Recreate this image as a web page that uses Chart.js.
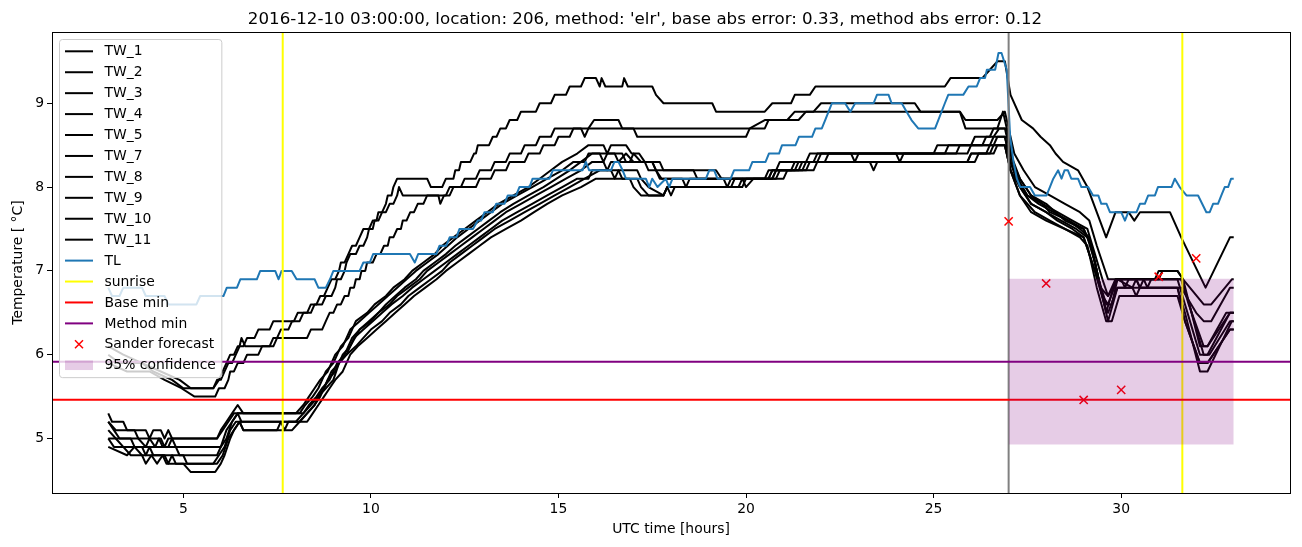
<!DOCTYPE html>
<html>
<head>
<meta charset="utf-8">
<script src="https://cdn.jsdelivr.net/npm/chart.js@4.4.1/dist/chart.umd.min.js"></script>
<style>
  html, body { margin: 0; padding: 0; background: #fff; }
  canvas { display: block; }
</style>
</head>
<body>
<canvas id="chart" width="1302" height="547"></canvas>
<script>
(() => {
  'use strict'

  const title = "2016-12-10 03:00:00, location: 206, method: 'elr', base abs error: 0.33, method abs error: 0.12"
  const xTicks = [5, 10, 15, 20, 25, 30]
  const yTicks = [5, 6, 7, 8, 9]
  const xLimits = [1.5, 34.5]
  const yLimits = [4.35, 9.85]

  // water temperature sensors, [hour, value]
  const tw1 = [[3,6.1],[3.4,6.0],[3.9,5.9],[4.4,5.8],[4.9,5.7],[5.2,5.6],[5.8,5.6],[5.95,5.7],[6.05,5.8],[6.15,5.9],[6.25,6.0],[6.35,6.0],[6.45,6.1],[6.6,6.1],[6.7,6.2],[6.9,6.2],[7.0,6.3],[7.3,6.3],[7.4,6.4],[7.95,6.4],[8.05,6.5],[8.4,6.5],[8.5,6.6],[8.7,6.6],[8.8,6.7],[8.95,6.7],[9.05,6.8],[9.1,6.9],[9.2,6.9],[9.3,7.0],[9.35,7.1],[9.45,7.2],[9.6,7.2],[9.7,7.3],[9.8,7.3],[9.9,7.4],[9.95,7.5],[10.05,7.5],[10.1,7.6],[10.15,7.6],[10.2,7.7],[10.3,7.7],[10.4,7.8],[10.45,7.9],[10.55,7.9],[10.6,8.0],[10.7,8.1],[11.5,8.1],[11.6,8.0],[11.9,8.0],[12.0,8.1],[12.2,8.1],[12.25,8.2],[12.35,8.2],[12.4,8.3],[12.65,8.3],[12.75,8.4],[12.8,8.4],[12.85,8.5],[13.15,8.5],[13.25,8.6],[13.35,8.6],[13.45,8.7],[13.6,8.7],[13.7,8.8],[13.9,8.8],[14.0,8.9],[14.4,8.9],[14.5,9.0],[14.8,9.0],[14.9,9.1],[15.2,9.1],[15.3,9.2],[15.6,9.2],[15.7,9.3],[16.0,9.3],[16.1,9.2],[16.15,9.3],[16.25,9.2],[16.7,9.2],[16.75,9.3],[16.85,9.2],[17.5,9.2],[17.6,9.1],[17.8,9.0],[19.1,9.0],[19.2,8.9],[20.5,8.9],[20.7,9.0],[21.2,9.0],[21.3,9.1],[21.7,9.1],[21.85,9.2],[25.3,9.2],[25.45,9.3],[26.3,9.3],[26.5,9.4],[26.7,9.5],[26.9,9.5],[27.05,9.1],[27.35,8.8],[27.65,8.7],[27.85,8.6],[28.1,8.5],[28.25,8.4],[28.45,8.3],[28.85,8.2],[29.1,8.0],[29.6,7.4],[29.85,7.7],[30.2,7.7],[30.35,7.6],[30.5,7.7],[31.3,7.7],[31.6,7.4],[32.25,6.8],[32.9,7.4],[33.0,7.4]]
  const tw2 = [[3,6.0],[3.3,5.9],[3.9,5.9],[4.2,5.8],[4.7,5.7],[5.0,5.6],[5.8,5.6],[5.9,5.7],[6.0,5.7],[6.1,5.8],[6.2,5.9],[6.3,5.9],[6.4,6.0],[6.5,6.1],[6.55,6.2],[6.65,6.1],[7.3,6.1],[7.4,6.2],[7.5,6.2],[7.6,6.3],[7.8,6.3],[7.9,6.4],[8.1,6.4],[8.2,6.5],[8.3,6.5],[8.4,6.6],[8.55,6.6],[8.65,6.7],[8.75,6.7],[8.85,6.8],[8.95,6.9],[9.05,6.9],[9.15,7.0],[9.2,7.1],[9.3,7.1],[9.4,7.2],[9.5,7.3],[9.6,7.3],[9.7,7.4],[9.8,7.5],[9.95,7.5],[10.05,7.6],[10.2,7.6],[10.3,7.7],[10.4,7.7],[10.5,7.8],[10.6,7.8],[10.7,7.9],[10.75,8.0],[10.85,7.9],[11.8,7.9],[11.85,7.8],[11.95,7.9],[12.1,7.9],[12.2,8.0],[12.4,8.0],[12.5,8.1],[12.8,8.1],[12.9,8.2],[13.2,8.2],[13.3,8.3],[13.6,8.3],[13.7,8.4],[14.0,8.4],[14.1,8.5],[14.4,8.5],[14.5,8.6],[14.8,8.6],[14.9,8.7],[15.6,8.7],[15.7,8.6],[15.8,8.7],[15.95,8.8],[16.6,8.8],[16.7,8.7],[20.1,8.7],[20.5,8.8],[21.1,8.8],[21.3,8.9],[21.8,8.9],[22.0,9.0],[24.5,9.0],[24.65,8.9],[25.7,8.9],[25.85,8.8],[26.7,8.8],[26.9,8.9],[27.0,8.7],[27.15,8.4],[27.4,8.2],[27.7,8.0],[28.1,7.9],[28.5,7.8],[28.9,7.7],[29.15,7.6],[29.35,7.3],[29.65,6.9],[30.0,6.9],[30.1,6.8],[30.2,6.9],[31.0,6.9],[31.1,7.0],[31.5,7.0],[31.65,6.9],[32.2,6.6],[32.4,6.6],[32.95,6.9],[33.0,6.9]]
  const tw3 = [[3,5.9],[3.5,5.8],[4.1,5.8],[4.5,5.7],[4.95,5.6],[5.3,5.5],[5.85,5.5],[5.95,5.6],[6.1,5.6],[6.2,5.7],[6.25,5.8],[6.35,5.8],[6.45,5.9],[6.6,5.9],[6.7,6.0],[7.0,6.0],[7.1,6.1],[7.4,6.1],[7.5,6.2],[8.3,6.2],[8.4,6.3],[8.7,6.3],[8.8,6.4],[8.9,6.5],[9.0,6.5],[9.1,6.6],[9.2,6.6],[9.3,6.7],[9.4,6.7],[9.45,6.8],[9.55,6.8],[9.6,6.9],[9.7,6.9],[9.75,7.0],[9.85,7.0],[9.9,7.1],[10.05,7.1],[10.15,7.2],[10.25,7.2],[10.35,7.3],[10.45,7.3],[10.5,7.4],[10.6,7.4],[10.7,7.5],[10.8,7.5],[10.85,7.6],[10.95,7.6],[11.05,7.7],[11.15,7.7],[11.25,7.8],[11.4,7.8],[11.5,7.9],[12.0,7.9],[12.1,8.0],[12.8,8.0],[12.9,8.1],[13.2,8.1],[13.3,8.2],[13.6,8.2],[13.7,8.3],[14.1,8.3],[14.2,8.4],[14.5,8.4],[14.6,8.5],[14.9,8.5],[15.0,8.6],[15.3,8.6],[15.4,8.7],[17.0,8.7],[17.1,8.6],[20.0,8.6],[20.1,8.7],[20.5,8.7],[20.6,8.8],[21.4,8.8],[21.6,8.9],[25.7,8.9],[25.85,8.7],[26.7,8.7],[26.85,8.9],[27.0,8.6],[27.1,8.3],[27.3,8.1],[27.6,7.9],[28.0,7.8],[28.5,7.6],[29.0,7.5],[29.2,7.3],[29.45,6.8],[29.65,6.7],[29.9,6.9],[30.3,6.8],[30.4,6.9],[30.5,6.8],[31.6,6.8],[32.0,6.5],[32.2,6.4],[32.4,6.4],[32.9,6.8],[33.0,6.8]]
  const tw4 = [[3,5.3],[3.1,5.2],[3.4,5.2],[3.5,5.1],[4.0,5.1],[4.1,5.0],[4.2,5.1],[4.4,5.1],[4.5,5.0],[4.6,5.1],[4.7,5.0],[5.9,5.0],[6.0,5.1],[6.15,5.2],[6.3,5.3],[6.45,5.4],[6.6,5.3],[8.1,5.3],[8.25,5.4],[8.45,5.5],[8.6,5.6],[8.8,5.8],[9.0,5.9],[9.2,6.1],[9.4,6.2],[9.6,6.4],[9.9,6.5],[10.1,6.6],[10.4,6.7],[10.6,6.8],[10.9,6.9],[11.1,7.0],[11.4,7.1],[11.7,7.2],[11.9,7.3],[12.2,7.4],[12.5,7.5],[12.8,7.6],[13.1,7.7],[13.4,7.8],[13.8,7.9],[14.2,8.0],[14.5,8.1],[14.8,8.2],[15.1,8.3],[15.5,8.4],[15.8,8.5],[16.2,8.5],[16.3,8.4],[16.4,8.5],[16.8,8.5],[16.95,8.4],[17.15,8.4],[17.3,8.3],[17.7,8.3],[17.8,8.2],[19.2,8.2],[19.35,8.1],[20.6,8.1],[20.7,8.2],[21.4,8.2],[21.5,8.3],[21.9,8.3],[22.0,8.4],[25.3,8.4],[25.4,8.5],[26.3,8.5],[26.4,8.6],[26.6,8.6],[26.75,8.7],[26.95,8.7],[27.05,8.4],[27.25,8.1],[27.5,7.9],[27.8,7.8],[28.2,7.7],[28.6,7.6],[28.9,7.5],[29.15,7.4],[29.4,6.9],[29.6,6.5],[29.85,6.9],[31.6,6.9],[31.8,6.6],[32.2,6.1],[32.3,6.1],[32.8,6.5],[33.0,6.5]]
  const tw5 = [[3,5.2],[3.2,5.1],[3.7,5.1],[3.8,5.0],[4.0,4.9],[4.1,5.0],[4.25,4.9],[4.35,5.0],[4.45,4.9],[6.0,4.9],[6.15,5.0],[6.3,5.2],[6.45,5.3],[8.2,5.3],[8.35,5.4],[8.55,5.5],[8.7,5.6],[8.9,5.7],[9.1,5.9],[9.3,6.0],[9.5,6.2],[9.7,6.3],[10.0,6.4],[10.2,6.5],[10.5,6.6],[10.7,6.7],[11.0,6.8],[11.3,6.9],[11.5,7.0],[11.8,7.1],[12.1,7.2],[12.4,7.3],[12.7,7.4],[13.0,7.5],[13.3,7.6],[13.6,7.7],[14.0,7.8],[14.4,7.9],[14.8,8.0],[15.2,8.1],[15.6,8.2],[15.9,8.3],[16.2,8.3],[16.3,8.2],[16.4,8.3],[16.9,8.3],[17.0,8.4],[17.2,8.3],[17.5,8.3],[17.6,8.2],[17.7,8.1],[19.9,8.1],[20.0,8.0],[20.2,8.1],[20.7,8.1],[20.8,8.2],[21.5,8.2],[21.6,8.3],[22.1,8.3],[22.2,8.4],[22.8,8.4],[22.9,8.3],[23.0,8.4],[25.9,8.4],[26.0,8.5],[26.5,8.5],[26.6,8.6],[26.9,8.6],[27.05,8.3],[27.2,8.1],[27.5,7.9],[27.9,7.8],[28.1,7.7],[28.6,7.6],[29.0,7.5],[29.2,7.3],[29.4,6.9],[29.6,6.6],[29.75,6.6],[29.9,6.9],[30.4,6.9],[30.5,6.8],[30.6,6.9],[31.6,6.9],[31.75,6.7],[32.2,6.0],[32.35,6.0],[32.9,6.4],[33.0,6.4]]
  const tw7 = [[3,5.1],[3.2,5.0],[3.4,4.9],[3.6,4.8],[3.9,4.8],[4.0,4.7],[4.15,4.8],[4.3,4.7],[4.45,4.8],[4.55,4.7],[5.0,4.7],[5.2,4.6],[5.85,4.6],[6.0,4.7],[6.1,4.8],[6.25,5.0],[6.35,5.1],[6.5,5.2],[6.6,5.1],[7.9,5.1],[8.1,5.2],[8.3,5.3],[8.5,5.4],[8.6,5.5],[8.8,5.6],[9.0,5.7],[9.15,5.9],[9.35,6.0],[9.6,6.1],[9.8,6.2],[10.0,6.3],[10.3,6.4],[10.5,6.5],[10.8,6.6],[11.0,6.7],[11.3,6.8],[11.6,6.9],[11.9,7.0],[12.1,7.1],[12.4,7.2],[12.7,7.3],[13.0,7.4],[13.3,7.5],[13.7,7.6],[14.1,7.7],[14.5,7.8],[14.9,7.9],[15.3,8.0],[15.7,8.1],[16.1,8.2],[16.4,8.2],[16.5,8.1],[16.6,8.2],[17.1,8.2],[17.2,8.1],[17.4,8.0],[17.8,7.9],[17.9,8.0],[19.6,8.0],[19.7,8.1],[20.6,8.1],[20.7,8.2],[21.3,8.2],[21.4,8.3],[25.9,8.3],[26.0,8.4],[26.4,8.4],[26.5,8.5],[26.9,8.5],[27.05,8.2],[27.3,8.0],[27.6,7.8],[28.0,7.7],[28.4,7.6],[28.8,7.5],[29.1,7.4],[29.3,7.1],[29.5,6.7],[29.65,6.4],[29.9,6.8],[30.3,6.8],[30.4,6.7],[30.5,6.8],[31.5,6.8],[31.7,6.4],[32.1,5.9],[32.3,5.9],[32.9,6.3],[33.0,6.3]]
  const tw8 = [[3,5.0],[4.4,5.0],[4.5,4.9],[4.6,5.0],[5.9,5.0],[6.05,5.1],[6.2,5.2],[6.35,5.3],[8.0,5.3],[8.2,5.4],[8.35,5.5],[8.5,5.6],[8.65,5.7],[8.85,5.8],[9.05,6.0],[9.25,6.1],[9.45,6.3],[9.7,6.4],[9.95,6.5],[10.2,6.6],[10.45,6.7],[10.7,6.8],[10.95,6.9],[11.2,7.0],[11.5,7.1],[11.8,7.2],[12.05,7.3],[12.3,7.4],[12.6,7.5],[12.9,7.6],[13.2,7.7],[13.5,7.8],[13.9,7.9],[14.3,8.0],[14.7,8.1],[15.1,8.2],[15.4,8.3],[15.7,8.3],[15.8,8.4],[16.5,8.4],[16.6,8.3],[16.8,8.4],[17.0,8.3],[17.5,8.3],[17.6,8.2],[17.75,8.1],[18.3,8.1],[18.4,8.0],[18.5,8.1],[20.5,8.1],[20.6,8.2],[20.8,8.2],[20.9,8.3],[21.6,8.3],[21.7,8.4],[24.0,8.4],[24.1,8.3],[24.2,8.4],[25.6,8.4],[25.7,8.5],[26.6,8.5],[26.7,8.6],[26.9,8.6],[27.05,8.3],[27.3,8.0],[27.6,7.8],[28.0,7.7],[28.3,7.6],[28.7,7.5],[29.0,7.4],[29.3,7.0],[29.55,6.6],[29.65,6.5],[29.9,6.8],[31.5,6.8],[31.7,6.5],[32.1,5.8],[32.3,5.8],[32.95,6.4],[33.0,6.4]]
  const tw9 = [[3,4.9],[3.5,4.8],[3.7,4.9],[3.9,4.8],[4.5,4.8],[4.6,4.7],[4.7,4.8],[4.8,4.7],[5.9,4.7],[6.05,4.8],[6.2,5.0],[6.35,5.1],[6.5,5.2],[6.6,5.1],[7.5,5.1],[7.6,5.2],[8.0,5.2],[8.2,5.3],[8.4,5.4],[8.6,5.5],[8.75,5.6],[8.95,5.8],[9.15,5.9],[9.35,6.0],[9.55,6.2],[9.8,6.3],[10.05,6.4],[10.3,6.5],[10.55,6.6],[10.85,6.7],[11.1,6.8],[11.4,6.9],[11.7,7.0],[12.0,7.1],[12.3,7.2],[12.6,7.3],[12.9,7.4],[13.2,7.5],[13.5,7.6],[13.9,7.7],[14.3,7.8],[14.7,7.9],[15.1,8.0],[15.5,8.1],[15.8,8.1],[15.9,8.2],[16.6,8.2],[16.7,8.1],[17.1,8.1],[17.2,8.0],[17.4,7.9],[17.8,7.9],[17.9,8.0],[18.0,7.9],[18.1,8.0],[19.9,8.0],[20.0,8.1],[20.8,8.1],[20.9,8.2],[21.6,8.2],[21.7,8.3],[25.9,8.3],[26.0,8.4],[26.5,8.4],[26.6,8.5],[26.9,8.5],[27.05,8.2],[27.3,7.9],[27.6,7.7],[28.0,7.6],[28.5,7.5],[29.0,7.4],[29.3,7.0],[29.5,6.7],[29.65,6.6],[29.9,6.9],[30.6,6.9],[30.7,6.8],[30.8,6.9],[31.5,6.9],[31.7,6.6],[32.1,6.0],[32.3,6.0],[32.9,6.5],[33.0,6.5]]
  const tw10 = [[3,5.0],[3.15,4.9],[3.9,4.9],[4.0,4.8],[4.1,4.9],[4.2,4.8],[5.0,4.8],[5.1,4.7],[5.8,4.7],[5.95,4.8],[6.1,4.9],[6.25,5.1],[6.4,5.2],[7.6,5.2],[7.7,5.1],[7.8,5.2],[8.3,5.2],[8.45,5.3],[8.6,5.4],[8.75,5.5],[8.9,5.6],[9.05,5.7],[9.25,5.8],[9.45,6.0],[9.65,6.1],[9.9,6.2],[10.15,6.3],[10.4,6.4],[10.65,6.5],[10.9,6.6],[11.15,6.7],[11.45,6.8],[11.75,6.9],[12.0,7.0],[12.3,7.1],[12.6,7.2],[12.9,7.3],[13.2,7.4],[13.6,7.5],[14.0,7.6],[14.35,7.7],[14.7,7.8],[15.1,7.9],[15.6,8.0],[16.0,8.1],[16.9,8.1],[17.0,8.0],[17.2,7.9],[17.8,7.9],[17.9,8.0],[19.8,8.0],[19.9,8.1],[21.0,8.1],[21.1,8.2],[21.8,8.2],[21.9,8.3],[23.3,8.3],[23.4,8.2],[23.5,8.3],[26.1,8.3],[26.2,8.4],[26.6,8.4],[26.7,8.5],[26.9,8.5],[27.05,8.2],[27.3,7.9],[27.7,7.7],[28.1,7.6],[28.5,7.5],[28.9,7.4],[29.1,7.3],[29.35,6.8],[29.6,6.4],[29.75,6.4],[29.95,6.7],[31.5,6.7],[31.7,6.4],[32.1,5.9],[32.3,5.9],[32.9,6.3],[33.0,6.3]]
  const tw11 = [[3,5.2],[3.15,5.1],[3.3,5.0],[3.6,5.0],[3.7,4.9],[4.6,4.9],[4.7,5.0],[4.8,4.9],[4.9,4.8],[5.9,4.8],[6.0,4.9],[6.15,5.1],[6.3,5.2],[6.45,5.3],[6.55,5.2],[8.1,5.2],[8.3,5.3],[8.5,5.4],[8.65,5.5],[8.85,5.7],[9.05,5.8],[9.25,6.0],[9.45,6.1],[9.7,6.3],[9.95,6.4],[10.2,6.5],[10.4,6.6],[10.65,6.7],[10.9,6.8],[11.2,6.9],[11.4,7.0],[11.7,7.1],[12.0,7.2],[12.25,7.3],[12.55,7.4],[12.85,7.5],[13.15,7.6],[13.45,7.7],[13.8,7.8],[14.2,7.9],[14.6,8.0],[14.95,8.1],[15.3,8.2],[15.6,8.3],[15.9,8.4],[16.1,8.4],[16.2,8.3],[16.3,8.4],[16.7,8.4],[16.8,8.3],[17.3,8.3],[17.4,8.2],[18.6,8.2],[18.7,8.1],[19.4,8.1],[19.5,8.0],[19.6,8.1],[20.7,8.1],[20.8,8.2],[21.2,8.2],[21.3,8.3],[21.8,8.3],[21.9,8.4],[25.0,8.4],[25.1,8.5],[26.0,8.5],[26.1,8.6],[26.5,8.6],[26.6,8.7],[26.9,8.7],[27.05,8.4],[27.3,8.1],[27.6,7.9],[27.9,7.8],[28.3,7.7],[28.7,7.6],[29.1,7.5],[29.3,7.2],[29.5,6.9],[29.65,6.7],[29.85,6.9],[30.9,6.9],[31.0,7.0],[31.5,7.0],[31.65,6.9],[32.1,6.1],[32.3,6.1],[32.9,6.5],[33.0,6.5]]

  // air temperature
  const tl = [[3.0,6.8],[3.1,6.7],[3.3,6.7],[3.4,6.8],[3.9,6.8],[4.0,6.7],[4.5,6.7],[4.6,6.6],[5.35,6.6],[5.45,6.7],[6.07,6.7],[6.16,6.8],[6.43,6.8],[6.52,6.9],[6.96,6.9],[7.05,7.0],[7.45,7.0],[7.54,6.9],[7.62,7.0],[7.89,7.0],[8.02,6.9],[8.5,6.9],[8.6,6.8],[8.8,6.8],[8.91,6.9],[9.0,7.0],[9.7,7.0],[9.8,7.1],[9.97,7.1],[10.06,7.2],[11.04,7.2],[11.17,7.1],[11.26,7.2],[11.74,7.2],[11.83,7.3],[12.01,7.3],[12.1,7.4],[12.28,7.4],[12.36,7.5],[12.72,7.5],[12.85,7.6],[12.94,7.6],[13.03,7.7],[13.25,7.7],[13.34,7.8],[13.56,7.8],[13.65,7.9],[13.87,7.9],[13.96,8.0],[14.23,8.0],[14.31,8.1],[14.76,8.1],[14.85,8.2],[15.64,8.2],[15.73,8.3],[15.82,8.2],[16.4,8.2],[16.49,8.3],[16.6,8.3],[16.71,8.2],[16.8,8.1],[17.33,8.1],[17.42,8.0],[17.5,8.1],[17.64,8.0],[17.86,8.1],[17.95,8.0],[18.04,8.1],[18.93,8.1],[19.02,8.2],[19.15,8.2],[19.24,8.1],[19.59,8.1],[19.68,8.2],[20.08,8.2],[20.17,8.3],[20.52,8.3],[20.61,8.4],[20.88,8.4],[20.96,8.5],[21.32,8.5],[21.41,8.6],[21.76,8.6],[21.85,8.7],[22.02,8.7],[22.11,8.8],[22.2,8.9],[22.29,9.0],[22.64,9.0],[22.78,8.9],[22.91,9.0],[23.4,9.0],[23.49,9.1],[23.8,9.1],[23.88,9.0],[24.15,9.0],[24.28,8.9],[24.41,8.8],[24.59,8.7],[25.04,8.7],[25.3,9.0],[25.39,9.1],[25.79,9.1],[25.93,9.2],[26.15,9.2],[26.24,9.3],[26.37,9.3],[26.42,9.4],[26.64,9.4],[26.73,9.6],[26.81,9.6],[26.95,9.4],[27.04,8.6],[27.13,8.3],[27.22,8.1],[27.31,8.0],[27.57,8.0],[27.7,7.9],[28.01,7.9],[28.1,8.0],[28.19,8.1],[28.32,8.2],[28.41,8.1],[28.49,8.2],[28.58,8.2],[28.67,8.1],[28.85,8.1],[28.94,8.0],[29.12,8.0],[29.25,7.9],[29.39,7.9],[29.47,7.8],[29.61,7.8],[29.7,7.7],[30.0,7.7],[30.1,7.6],[30.19,7.7],[30.41,7.7],[30.5,7.8],[30.63,7.8],[30.72,7.9],[30.9,7.9],[30.98,8.0],[31.34,8.0],[31.43,8.1],[31.56,8.0],[31.74,7.9],[32.05,7.9],[32.27,7.7],[32.36,7.7],[32.45,7.8],[32.58,7.8],[32.67,7.9],[32.76,8.0],[32.85,8.0],[32.93,8.1],[33.0,8.1]]

  const sunriseHours = [7.65, 31.63]
  const forecastStart = 27
  const baseMin = 5.464
  const methodMin = 5.917
  const sanderHours = [27, 28, 29, 30, 31, 32]
  const sanderValues = [7.59, 6.85, 5.46, 5.58, 6.93, 7.15]
  const confidenceHours = [27, 33]
  const confidenceBand = [4.93, 6.905]

  const font = "'DejaVu Sans', 'Liberation Sans', sans-serif"
  Chart.defaults.font.family = font
  Chart.defaults.font.size = 13.9
  Chart.defaults.color = '#000'

  const twSeries = [
    ['TW_1', tw1], ['TW_2', tw2], ['TW_3', tw3], ['TW_4', tw4], ['TW_5', tw5],
    ['TW_7', tw7], ['TW_8', tw8], ['TW_9', tw9], ['TW_10', tw10], ['TW_11', tw11]
  ]

  const line = (label, data, color, order, extra) => Object.assign({
    label, data, order,
    borderColor: color,
    backgroundColor: color,
    borderWidth: 2,
    borderJoinStyle: 'round',
    pointRadius: 0,
    fill: false,
    tension: 0
  }, extra || {})

  const vertical = hours => hours.flatMap(h => [[h, yLimits[0]], [h, yLimits[1]], [h, null]])
  const horizontal = v => [[xLimits[0], v], [xLimits[1], v]]

  const datasets = [
    ...twSeries.map(([name, d]) => line(name, d, '#000000', 10)),
    line('TL', tl, '#1f77b4', 9),
    line('sunrise', vertical(sunriseHours), '#ffff00', 7),
    line('Base min', horizontal(baseMin), '#ff0000', 6),
    line('Method min', horizontal(methodMin), '#800080', 5),
    line('Sander forecast', sanderHours.map((h, i) => [h, sanderValues[i]]), '#ff0000', 4, {
      showLine: false, pointStyle: 'crossRot', pointRadius: 5.8, borderWidth: 1.5, legendMarker: true
    }),
    line('', confidenceHours.map(h => [h, confidenceBand[0]]), 'rgba(0,0,0,0)', 3, { borderWidth: 0, inLegend: false }),
    line('95% confidence', confidenceHours.map(h => [h, confidenceBand[1]]), 'rgba(0,0,0,0)', 3, {
      borderWidth: 0, fill: '-1', backgroundColor: 'rgba(128,0,128,0.2)', legendPatch: 'rgba(128,0,128,0.2)'
    }),
    line('', vertical([forecastStart]), '#808080', 8, { inLegend: false })
  ]

  // matplotlib style frame round the plot area
  const frame = {
    id: 'frame',
    afterDatasetsDraw(chart) {
      const { ctx, chartArea: a } = chart
      ctx.save()
      ctx.strokeStyle = '#000'
      ctx.lineWidth = 1
      ctx.strokeRect(Math.round(a.left) + 0.5, Math.round(a.top) + 0.5, Math.round(a.right - a.left), Math.round(a.bottom - a.top))
      ctx.restore()
    }
  }

  // legend box in the upper left corner of the plot
  const boxLegend = {
    id: 'boxLegend',
    afterDraw(chart) {
      const ctx = chart.ctx
      const items = chart.data.datasets.filter(d => d.inLegend !== false)
      const a = chart.chartArea
      const left = a.left + 7.5
      const top = a.top + 7.5
      const rowH = 20.93
      const firstY = a.top + 19.3
      const handleX = left + 5.5
      const handleW = 28
      const textX = left + 45
      ctx.save()
      ctx.font = "13.9px " + font
      const textW = Math.max(...items.map(d => ctx.measureText(d.label).width))
      const w = textX + textW + 6 - left
      const h = (items.length - 1) * rowH + 24.2
      const r = 3
      ctx.beginPath()
      ctx.moveTo(left + r, top)
      ctx.lineTo(left + w - r, top)
      ctx.arcTo(left + w, top, left + w, top + r, r)
      ctx.lineTo(left + w, top + h - r)
      ctx.arcTo(left + w, top + h, left + w - r, top + h, r)
      ctx.lineTo(left + r, top + h)
      ctx.arcTo(left, top + h, left, top + h - r, r)
      ctx.lineTo(left, top + r)
      ctx.arcTo(left, top, left + r, top, r)
      ctx.closePath()
      ctx.fillStyle = 'rgba(255,255,255,0.8)'
      ctx.fill()
      ctx.strokeStyle = '#cccccc'
      ctx.lineWidth = 1
      ctx.stroke()
      items.forEach((d, i) => {
        const y = firstY + i * rowH
        if (d.legendPatch) {
          ctx.fillStyle = d.legendPatch
          ctx.fillRect(handleX, y - 4.8, handleW, 9.6)
        } else if (d.legendMarker) {
          const cx = handleX + handleW / 2
          const s = 4
          ctx.strokeStyle = d.borderColor
          ctx.lineWidth = 1.5
          ctx.beginPath()
          ctx.moveTo(cx - s, y - s); ctx.lineTo(cx + s, y + s)
          ctx.moveTo(cx - s, y + s); ctx.lineTo(cx + s, y - s)
          ctx.stroke()
        } else {
          ctx.strokeStyle = d.borderColor
          ctx.lineWidth = 2
          ctx.beginPath()
          ctx.moveTo(handleX, y)
          ctx.lineTo(handleX + handleW, y)
          ctx.stroke()
        }
        ctx.fillStyle = '#000'
        ctx.textBaseline = 'middle'
        ctx.textAlign = 'left'
        ctx.fillText(d.label, textX, y + 0.5)
      })
      ctx.restore()
    }
  }

  const axisGrid = { display: true, drawOnChartArea: false, drawTicks: true, tickLength: 5, tickWidth: 1, tickColor: '#000' }

  new Chart(document.getElementById('chart'), {
    type: 'line',
    data: { datasets },
    plugins: [frame, boxLegend],
    options: {
      responsive: false,
      animation: false,
      events: [],
      layout: { padding: { left: 0, right: 12, top: 0, bottom: 0 } },
      plugins: {
        legend: { display: false },
        tooltip: { enabled: false },
        title: {
          display: true,
          text: title,
          color: '#000',
          font: { size: 16.67, weight: 'normal' },
          padding: { top: 10, bottom: 2 }
        }
      },
      scales: {
        x: {
          type: 'linear',
          min: xLimits[0],
          max: xLimits[1],
          afterBuildTicks: s => { s.ticks = xTicks.map(v => ({ value: v })) },
          afterFit: s => { s.height = 54 },
          grid: axisGrid,
          border: { display: false },
          ticks: { color: '#000', padding: 3, maxRotation: 0, autoSkip: false },
          title: { display: true, text: 'UTC time [hours]', color: '#000', padding: { top: 4, bottom: 9 } }
        },
        y: {
          type: 'linear',
          min: yLimits[0],
          max: yLimits[1],
          afterBuildTicks: s => { s.ticks = yTicks.map(v => ({ value: v })) },
          afterFit: s => { s.width = 52 },
          grid: axisGrid,
          border: { display: false },
          ticks: { color: '#000', padding: 3 },
          title: { display: true, text: 'Temperature [ °C]', color: '#000', padding: { top: 10, bottom: 0 } }
        }
      }
    }
  })
})()
</script>
</body>
</html>
